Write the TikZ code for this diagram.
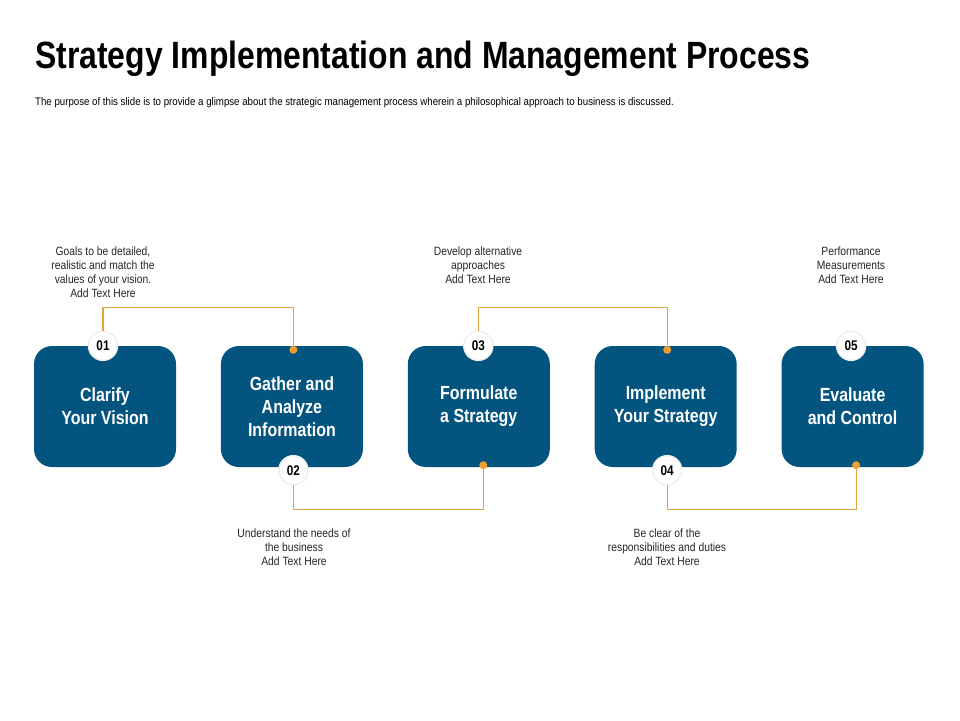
\documentclass[tikz,border=0pt]{standalone}
\usepackage{fontspec}
\setmainfont{Liberation Sans}[FakeStretch=0.84]
\newfontfamily\subfont{Liberation Sans}[FakeStretch=0.88]
\newfontfamily\notefont{Liberation Sans}[FakeStretch=0.86]
\usepackage{tikz}
\usetikzlibrary{positioning}

\definecolor{boxblue}{HTML}{03547F}
\definecolor{dotorange}{HTML}{EFA032}
\definecolor{linegold}{HTML}{DDA53C}

\tikzset{
  stepbox/.style={fill=boxblue, rounded corners=18pt, minimum width=142pt,
    minimum height=121pt, align=center, text=white,
    font=\fontsize{19}{23}\selectfont\bfseries},
  numdot/.style={circle, fill=white, draw=gray!12, line width=1.5pt,
    minimum size=29pt, inner sep=0pt, font=\fontsize{14}{14}\selectfont\bfseries},
  joint/.style={circle, fill=dotorange, minimum size=8pt, inner sep=0pt},
  link/.style={linegold, line width=1.2pt},
  note/.style={align=center, text=black!85, font=\notefont\fontsize{12}{14}\selectfont}
}

\begin{document}
\begin{tikzpicture}[x=1pt, y=-1pt]
\useasboundingbox[fill=white] (0,0) rectangle (960,720);
\node[anchor=base west, inner sep=0pt, font=\fontsize{38}{40}\selectfont\bfseries] (title) at (35,68)
  {Strategy Implementation and Management Process};
\node[anchor=base west, inner sep=0pt, font=\subfont\fontsize{11}{12}\selectfont] (subtitle) at (35,105)
  {The purpose of this slide is to provide a glimpse about the strategic management process wherein a philosophical approach to business is discussed.};

\node[stepbox] (box1) at (105,406.5) {Clarify\\Your Vision};
\node[stepbox, right=44.5pt of box1] (box2) {Gather and\\Analyze\\Information};
\node[stepbox, right=44.5pt of box2] (box3) {Formulate\\ a Strategy};
\node[stepbox, right=44.5pt of box3] (box4) {Implement\\Your Strategy};
\node[stepbox, right=44.5pt of box4] (box5) {Evaluate\\and Control};

\node[numdot] (n1) at ([xshift=-2pt]box1.north) {01};
\node[numdot] (n2) at ([xshift=1.5pt, yshift=-3pt]box2.south) {02};
\node[numdot] (n3) at ([xshift=-0.5pt]box3.north) {03};
\node[numdot] (n4) at ([xshift=1.5pt, yshift=-3pt]box4.south) {04};
\node[numdot] (n5) at ([xshift=-1.5pt]box5.north) {05};

\node[joint] (d2) at ([xshift=1.5pt, yshift=-4pt]box2.north) {};
\node[joint] (d3) at ([xshift=4.5pt, yshift=2pt]box3.south) {};
\node[joint] (d4) at ([xshift=1.5pt, yshift=-4pt]box4.north) {};
\node[joint] (d5) at ([xshift=3.5pt, yshift=2pt]box5.south) {};

\draw[link] (n1.north) -- ++(0,-23) -| (d2);
\draw[link] (n2.south) -- ++(0,24) -| (d3);
\draw[link] (n3.north) -- ++(0,-23) -| (d4);
\draw[link] (n4.south) -- ++(0,24) -| (d5);

\node[note] (t1) at (103,272.5) {Goals to be detailed,\\realistic and match the\\values of your vision.\\Add Text Here};
\node[note] (t2) at (294,547) {Understand the needs of\\the business\\Add Text Here};
\node[note] (t3) at (478,265) {Develop alternative\\approaches\\Add Text Here};
\node[note] (t4) at (667,547) {Be clear of the\\responsibilities and duties\\Add Text Here};
\node[note] (t5) at (851,265) {Performance\\Measurements\\Add Text Here};
\end{tikzpicture}
\end{document}
